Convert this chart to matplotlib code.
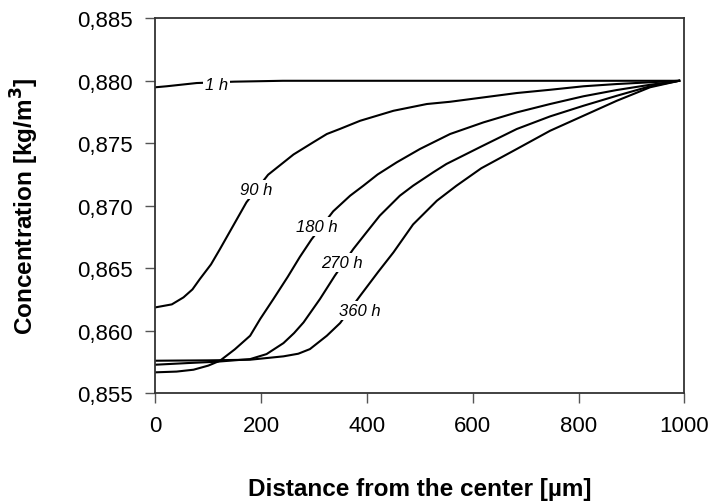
import numpy as np
import matplotlib
matplotlib.use("Agg")
import matplotlib.pyplot as plt
from matplotlib.ticker import FuncFormatter

plt.rcParams['font.family'] = ['Liberation Sans', 'DejaVu Sans']

# Concentration profiles (x in µm, c in kg/m3)
x_1h = [0, 21, 78, 149, 241, 400, 600, 800, 990]
c_1h = [0.87948, 0.87956, 0.87982, 0.87993, 0.88000, 0.88000, 0.88000, 0.88000, 0.88000]

x_90h = [0, 31, 53, 70, 84, 105, 122, 147, 172, 213, 261, 298, 324, 349, 387, 450, 513, 557,
         620, 683, 746, 809, 872, 935, 990]
c_90h = [0.86186, 0.86210, 0.86266, 0.86330, 0.86413, 0.86530, 0.86653, 0.86840, 0.87027,
         0.87248, 0.87410, 0.87507, 0.87574, 0.87615, 0.87680, 0.87760, 0.87814, 0.87832,
         0.87867, 0.87902, 0.87928, 0.87956, 0.87974, 0.87988, 0.88000]

x_180h = [0, 40, 72, 100, 122, 150, 179, 198, 223, 250, 273, 295, 336, 368, 393, 420, 456,
          500, 557, 620, 683, 746, 809, 872, 935, 990]
c_180h = [0.85666, 0.85672, 0.85687, 0.85720, 0.85759, 0.85850, 0.85959, 0.86093, 0.86253,
          0.86430, 0.86590, 0.86730, 0.86955, 0.87080, 0.87160, 0.87250, 0.87347, 0.87454,
          0.87574, 0.87667, 0.87747, 0.87814, 0.87876, 0.87926, 0.87968, 0.88000]

x_270h = [0, 60, 116, 179, 210, 242, 262, 280, 311, 339, 374, 399, 424, 462, 487, 525, 550,
          616, 683, 746, 809, 872, 935, 990]
c_270h = [0.85727, 0.85740, 0.85751, 0.85772, 0.85812, 0.85900, 0.85980, 0.86066, 0.86253,
          0.86439, 0.86653, 0.86787, 0.86920, 0.87080, 0.87160, 0.87267, 0.87334, 0.87474,
          0.87614, 0.87715, 0.87800, 0.87880, 0.87956, 0.88000]

x_360h = [0, 100, 179, 242, 270, 292, 324, 349, 387, 421, 450, 487, 532, 569, 616, 683, 746,
          809, 872, 935, 990]
c_360h = [0.85759, 0.85762, 0.85767, 0.85794, 0.85815, 0.85852, 0.85959, 0.86060, 0.86279,
          0.86470, 0.86627, 0.86850, 0.87040, 0.87160, 0.87300, 0.87454, 0.87600, 0.87720,
          0.87840, 0.87948, 0.88000]

curve_labels = ['1 h', '90 h', '180 h', '270 h', '360 h']
label_x = [115, 191, 305, 352, 387]
label_y = [0.87974, 0.87133, 0.86835, 0.86546, 0.86159]

fig = plt.figure(figsize=(7.13, 5.02), dpi=100)
ax = fig.add_axes([0.218, 0.215, 0.742, 0.7465])

for xs, cs in [(x_1h, c_1h), (x_90h, c_90h), (x_180h, c_180h), (x_270h, c_270h), (x_360h, c_360h)]:
    ax.plot(xs, cs, color='black', linewidth=1.5)

for lab, lx, ly in zip(curve_labels, label_x, label_y):
    ax.text(lx, ly, lab, fontsize=12, style='italic', ha='center', va='center',
            bbox=dict(facecolor='white', edgecolor='none', pad=1.5))

ax.set_xlim(0, 1000)
ax.set_ylim(0.855, 0.885)
ax.set_xticks([0, 200, 400, 600, 800, 1000])
ax.set_yticks([0.855, 0.860, 0.865, 0.870, 0.875, 0.880, 0.885])
ax.yaxis.set_major_formatter(FuncFormatter(lambda v, p: ('%.3f' % v).replace('.', ',')))
ax.tick_params(direction='out', length=7, width=1, labelsize=16, pad=9,
               colors='#555555', labelcolor='black')

for s in ax.spines.values():
    s.set_color('#333333')
    s.set_linewidth(1.3)

ax.set_xlabel('Distance from the center [µm]', fontsize=17.5, fontweight='bold', labelpad=29)
ax.set_ylabel('Concentration [kg/m$^\\mathbf{3}$]', fontsize=17.5, fontweight='bold', labelpad=26)

fig.savefig('out.png', dpi=100)
